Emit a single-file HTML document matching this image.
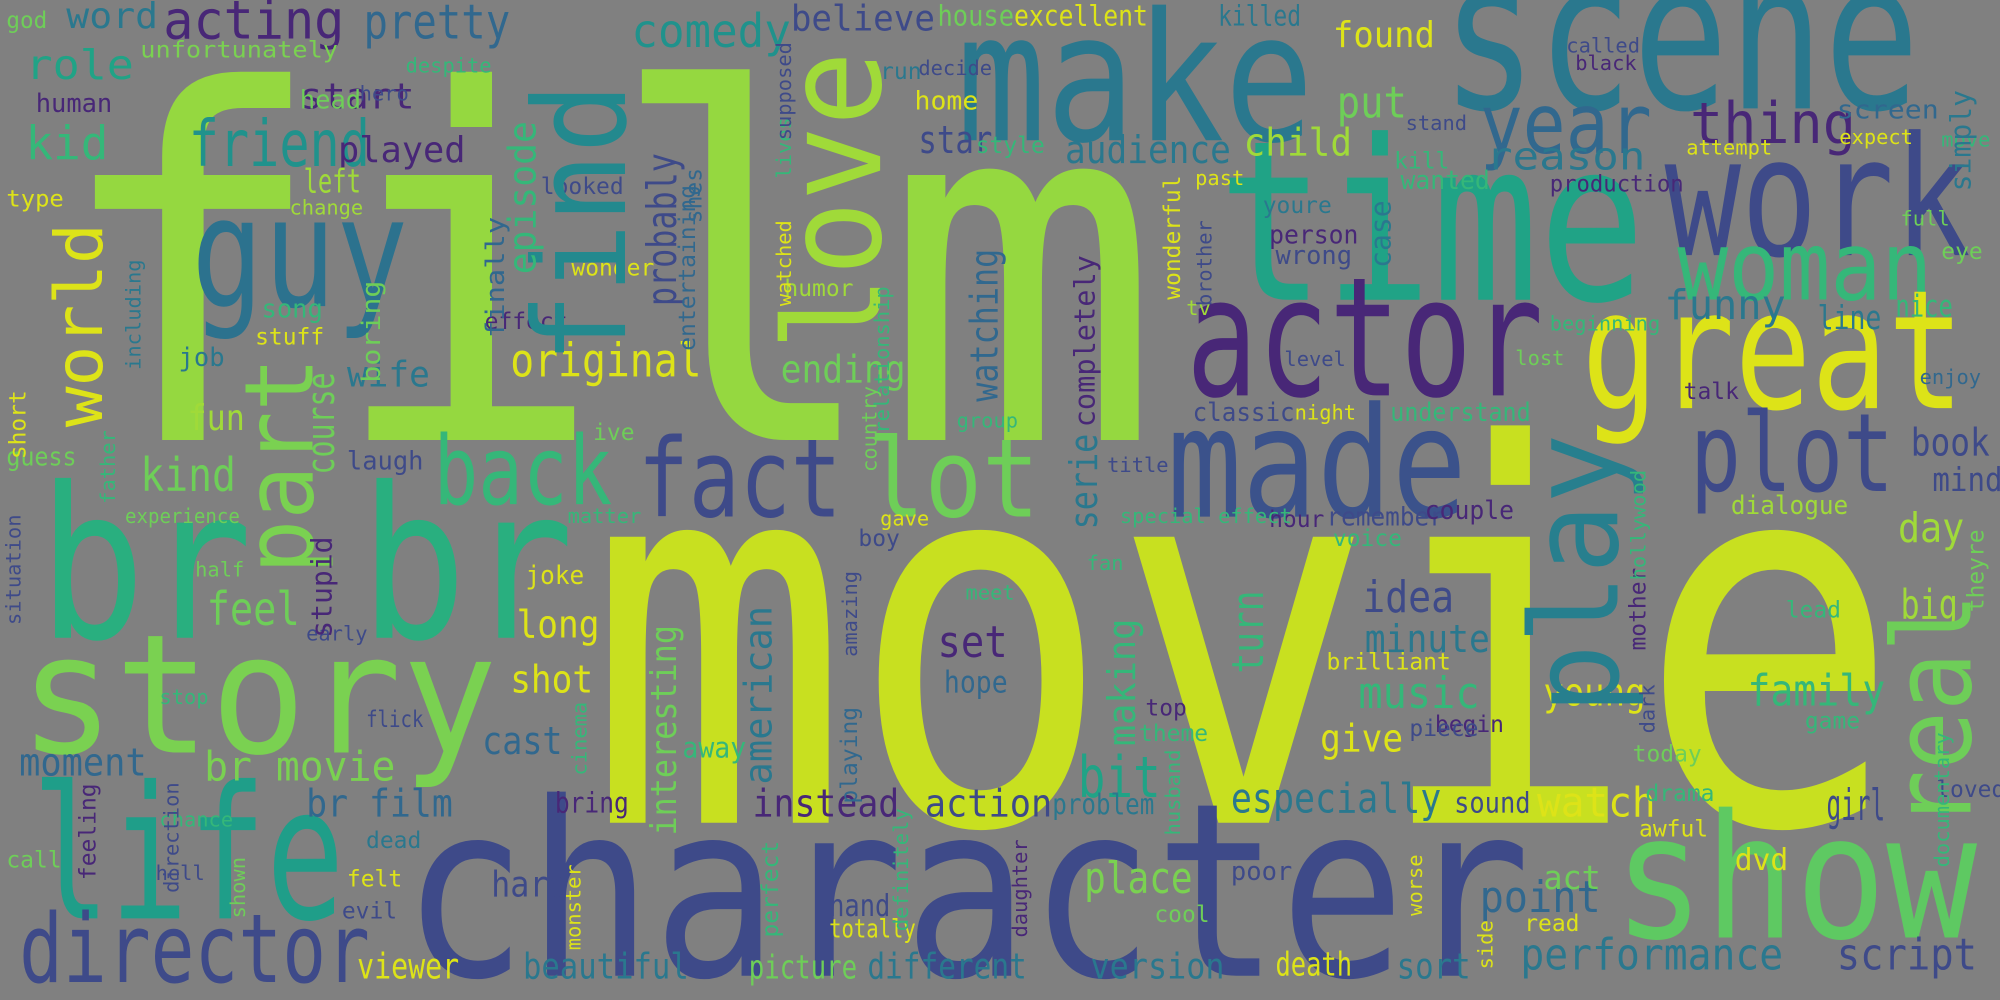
<!DOCTYPE html>
<html><head><meta charset="utf-8"><style>
html,body{margin:0;padding:0;background:#808080;}
svg{display:block;}
text{font-family:"DejaVu Sans Mono","Liberation Mono",monospace;}
</style></head><body>
<svg id="cloud" width="2000" height="1000" viewBox="0 0 1568 784" xmlns="http://www.w3.org/2000/svg">
<rect width="1568" height="784" fill="#808080"/>
</svg>
<script>
// [word, x, baseline, fontSize, length(0=auto), color, vertical]
const words = [
["film",40,345,380,870,"#95d840",0],
["movie",460,645,410,1030,"#c8e020",0],
["character",315,765,190,885,"#3e4a89",0],
["scene",1130,85,165,375,"#2a788e",0],
["make",750,110,140,280,"#2a788e",0],
["time",955,235,175,335,"#20a386",0],
["work",1305,200,130,240,"#3e4a89",0],
["woman",1315,235,75,200,"#35b779",0],
["great",1240,320,130,300,"#dde318",0],
["actor",930,310,130,280,"#482777",0],
["made",915,405,120,235,"#3b528b",0],
["plot",1325,385,85,160,"#3e4a89",0],
["show",1265,735,135,285,"#5ec962",0],
["br br",30,500,165,420,"#29af7f",0],
["story",15,590,130,375,"#7ad151",0],
["life",25,720,145,245,"#1f9e89",0],
["director",15,770,75,275,"#3e4a89",0],
["guy",150,240,120,170,"#2c728e",0],
["back",340,395,75,140,"#35b779",0],
["fact",500,405,85,160,"#3e4a89",0],
["lot",680,405,85,135,"#6ece58",0],
["year",1160,120,65,135,"#31688e",0],
["thing",1325,112,45,130,"#482777",0],
["friend",148,130,50,142,"#20928c",0],
["acting",128,30,42,142,"#482777",0],
["pretty",285,30,38,115,"#31688e",0],
["comedy",495,37,36,125,"#20928c",0],
["original",400,295,36,150,"#dde318",0],
["instead",590,640,30,115,"#482777",0],
["action",725,640,30,100,"#3e4a89",0],
["br movie",160,612,32,150,"#7ad151",0],
["br film",240,640,30,115,"#31688e",0],
["moment",15,608,30,100,"#31688e",0],
["kind",110,385,36,75,"#6ece58",0],
["feel",162,490,36,73,"#6ece58",0],
["bit",845,625,45,65,"#20a386",0],
["especially",965,637,32,165,"#2a788e",0],
["watch",1205,640,32,93,"#dde318",0],
["girl",1432,643,34,46,"#3e4a89",0],
["performance",1192,760,34,206,"#2a788e",0],
["script",1440,760,34,110,"#3e4a89",0],
["point",1160,715,34,95,"#31688e",0],
["place",850,700,34,85,"#7ad151",0],
["music",1065,555,34,95,"#35b779",0],
["family",1370,553,34,108,"#35b779",0],
["young",1210,553,30,80,"#dde318",0],
["minute",1070,511,30,98,"#2a788e",0],
["idea",1068,480,34,72,"#3e4a89",0],
["set",735,515,34,55,"#482777",0],
["big",1490,485,32,45,"#a0da39",0],
["day",1488,425,32,52,"#a0da39",0],
["book",1498,357,30,62,"#3e4a89",0],
["mind",1515,385,26,55,"#3e4a89",0],
["funny",1305,250,32,95,"#2a788e",0],
["line",1425,258,26,50,"#2a788e",0],
["nice",1486,248,24,45,"#35b779",0],
["reason",1165,133,30,125,"#2a788e",0],
["child",975,122,30,85,"#a0da39",0],
["put",1048,92,34,55,"#6ece58",0],
["found",1045,37,28,80,"#dde318",0],
["audience",835,128,30,130,"#2a788e",0],
["star",720,120,30,58,"#3e4a89",0],
["played",265,127,28,100,"#482777",0],
["ending",612,300,30,98,"#6ece58",0],
["cast",378,591,30,63,"#31688e",0],
["shot",400,543,30,65,"#dde318",0],
["long",405,500,30,65,"#dde318",0],
["fun",147,337,28,45,"#a0da39",0],
["wife",272,303,28,65,"#2a788e",0],
["left",238,151,26,45,"#a0da39",0],
["start",235,85,28,90,"#482777",0],
["role",20,62,32,85,"#20a386",0],
["kid",20,125,36,65,"#35b779",0],
["word",52,22,28,72,"#2a788e",0],
["god",5,22,18,32,"#6ece58",0],
["human",28,88,20,60,"#482777",0],
["type",5,162,18,45,"#dde318",0],
["unfortunately",110,45,18,155,"#7ad151",0],
["head",235,85,20,0,"#6ece58",0],
["give",1035,589,30,65,"#dde318",0],
["hope",740,543,24,50,"#31688e",0],
["believe",620,24,28,113,"#3e4a89",0],
["house",735,20,22,60,"#6ece58",0],
["excellent",795,20,22,105,"#dde318",0],
["killed",955,20,22,65,"#2a788e",0],
["beautiful",410,767,28,130,"#2a788e",0],
["viewer",280,767,28,80,"#dde318",0],
["different",680,767,28,125,"#2a788e",0],
["version",855,767,28,105,"#2a788e",0],
["death",1000,765,26,60,"#dde318",0],
["sort",1095,767,28,58,"#2a788e",0],
["picture",587,767,26,85,"#6ece58",0],
["hard",385,703,28,60,"#3e4a89",0],
["hand",650,718,24,48,"#3e4a89",0],
["totally",650,735,20,68,"#dde318",0],
["act",1210,697,26,45,"#6ece58",0],
["dvd",1360,682,24,42,"#dde318",0],
["bring",435,637,22,58,"#482777",0],
["problem",825,638,22,80,"#2a788e",0],
["away",535,594,22,50,"#35b779",0],
["sound",1140,637,22,60,"#3e4a89",0],
["understand",1090,330,20,110,"#35b779",0],
["classic",935,330,20,80,"#3e4a89",0],
["remember",1040,412,20,92,"#3e4a89",0],
["couple",1117,407,20,70,"#482777",0],
["dialogue",1357,403,20,92,"#a0da39",0],
["person",995,191,20,70,"#482777",0],
["wrong",1000,207,20,60,"#3e4a89",0],
["wanted",1098,148,20,70,"#35b779",0],
["production",1215,150,18,105,"#482777",0],
["screen",1440,93,20,80,"#31688e",0],
["home",717,86,20,50,"#dde318",0],
["laugh",272,368,20,60,"#3e4a89",0],
["experience",98,410,16,90,"#6ece58",0],
["guess",5,365,20,55,"#6ece58",0],
["joke",412,458,20,46,"#dde318",0],
["flick",287,570,18,45,"#3e4a89",0],
["chance",125,648,16,0,"#35b779",0],
["call",5,680,18,0,"#6ece58",0],
["hell",122,690,16,0,"#3e4a89",0],
["dead",287,665,18,0,"#2a788e",0],
["felt",272,695,18,0,"#dde318",0],
["evil",268,720,18,0,"#3e4a89",0],
["poor",965,690,20,0,"#3e4a89",0],
["cool",905,723,18,0,"#6ece58",0],
["read",1195,730,18,0,"#dde318",0],
["awful",1285,656,18,0,"#dde318",0],
["drama",1290,628,18,0,"#35b779",0],
["loved",1518,625,18,0,"#3e4a89",0],
["game",1415,571,18,0,"#35b779",0],
["today",1280,597,18,0,"#6ece58",0],
["begin",1125,574,18,0,"#482777",0],
["piece",1105,577,18,0,"#3e4a89",0],
["theme",893,581,18,0,"#35b779",0],
["top",898,561,18,0,"#482777",0],
["brilliant",1040,525,18,0,"#dde318",0],
["lead",1400,484,18,0,"#35b779",0],
["voice",1045,428,18,0,"#35b779",0],
["hour",995,413,18,0,"#482777",0],
["special effect",878,410,16,0,"#35b779",0],
["title",868,370,16,0,"#3e4a89",0],
["matter",445,410,16,0,"#35b779",0],
["half",153,452,16,0,"#6ece58",0],
["early",240,502,16,0,"#3e4a89",0],
["stop",125,552,16,0,"#35b779",0],
["meet",757,470,16,0,"#35b779",0],
["fan",852,447,16,0,"#35b779",0],
["gave",690,412,16,0,"#dde318",0],
["boy",673,428,18,0,"#3e4a89",0],
["talk",1320,313,18,0,"#482777",0],
["enjoy",1505,301,16,0,"#31688e",0],
["level",1007,287,16,0,"#3e4a89",0],
["lost",1188,286,16,0,"#6ece58",0],
["night",1015,329,16,0,"#dde318",0],
["ive",465,345,18,0,"#6ece58",0],
["job",140,287,20,0,"#2a788e",0],
["song",205,249,20,0,"#35b779",0],
["stuff",200,270,18,0,"#dde318",0],
["effect",380,258,18,0,"#482777",0],
["humor",615,232,18,0,"#a0da39",0],
["wonder",448,216,18,0,"#dde318",0],
["looked",424,152,18,0,"#3e4a89",0],
["change",227,168,16,0,"#a0da39",0],
["hero",282,79,16,0,"#3e4a89",0],
["despite",318,57,16,0,"#35b779",0],
["run",690,62,18,0,"#2a788e",0],
["decide",720,59,16,0,"#3e4a89",0],
["called",1228,41,16,0,"#3e4a89",0],
["black",1235,55,16,0,"#482777",0],
["stand",1102,102,16,0,"#3e4a89",0],
["attempt",1322,121,16,0,"#dde318",0],
["expect",1442,113,16,0,"#dde318",0],
["move",1522,115,16,0,"#35b779",0],
["full",1490,177,16,0,"#6ece58",0],
["eye",1522,203,18,0,"#6ece58",0],
["kill",1093,132,18,0,"#35b779",0],
["past",937,145,16,0,"#dde318",0],
["youre",990,167,18,0,"#2a788e",0],
["style",765,120,18,0,"#35b779",0],
["beginning",1215,259,16,0,"#35b779",0],
["tv",930,247,16,0,"#a0da39",0],
["group",750,335,16,0,"#35b779",0],
// vertical: [word, baselineX, bottomY, fontSize, length, color, 1]
["find",490,285,100,220,"#23898e",1],
["love",690,275,105,235,"#a0da39",1],
["part",245,450,75,170,"#7ad151",1],
["play",1268,560,95,220,"#277f8e",1],
["real",1545,650,85,185,"#6ece58",1],
["world",80,335,52,160,"#dde318",1],
["probably",530,240,32,120,"#3e4a89",1],
["watching",782,315,30,120,"#31688e",1],
["episode",420,215,30,120,"#35b779",1],
["course",262,372,30,80,"#6ece58",1],
["american",605,615,30,140,"#2a788e",1],
["interesting",530,655,28,165,"#6ece58",1],
["making",890,585,30,100,"#35b779",1],
["serie",860,415,30,75,"#2a788e",1],
["turn",990,528,34,65,"#35b779",1],
["completely",858,335,22,135,"#482777",1],
["boring",298,300,20,80,"#6ece58",1],
["finally",395,265,20,95,"#31688e",1],
["entertaining",545,275,18,130,"#31688e",1],
["watched",620,240,16,0,"#dde318",1],
["lives",620,140,16,0,"#35b779",1],
["supposed",620,110,16,0,"#3e4a89",1],
["relationship",697,340,16,0,"#35b779",1],
["including",110,290,16,0,"#2a788e",1],
["short",20,360,18,0,"#dde318",1],
["father",90,395,16,0,"#35b779",1],
["situation",16,490,16,0,"#3e4a89",1],
["feeling",75,690,18,0,"#482777",1],
["direction",140,700,16,0,"#3e4a89",1],
["shown",192,720,16,0,"#6ece58",1],
["stupid",260,500,22,0,"#482777",1],
["perfect",610,735,18,0,"#35b779",1],
["monster",455,745,16,0,"#dde318",1],
["definitely",712,730,16,0,"#35b779",1],
["daughter",805,735,16,0,"#482777",1],
["husband",925,655,16,0,"#35b779",1],
["worse",1115,718,16,0,"#dde318",1],
["side",1170,760,16,0,"#dde318",1],
["playing",672,630,18,0,"#31688e",1],
["cinema",460,608,16,0,"#35b779",1],
["amazing",672,515,16,0,"#3e4a89",1],
["country",687,370,16,0,"#6ece58",1],
["mother",1290,510,18,0,"#482777",1],
["dark",1297,575,16,0,"#3e4a89",1],
["hollywood",1290,455,16,0,"#35b779",1],
["theyre",1555,480,18,0,"#6ece58",1],
["brother",950,240,16,0,"#3e4a89",1],
["wonderful",925,235,18,0,"#dde318",1],
["shes",550,175,18,0,"#31688e",1],
["simply",1545,150,22,0,"#2a788e",1],
["documentary",1528,680,16,0,"#35b779",1],
["case",1090,210,22,0,"#2a788e",1]
];
const svg = document.getElementById('cloud');
const NS = 'http://www.w3.org/2000/svg';
for (const w of words) {
  const [txt, x, y, fs, len, col, vert] = w;
  const t = document.createElementNS(NS, 'text');
  t.textContent = txt;
  t.setAttribute('font-size', fs);
  t.setAttribute('fill', col);
  if (len > 0) {
    t.setAttribute('textLength', len);
    t.setAttribute('lengthAdjust', 'spacingAndGlyphs');
  }
  if (vert) {
    t.setAttribute('transform', 'translate(' + x + ',' + y + ') rotate(-90)');
  } else {
    t.setAttribute('x', x);
    t.setAttribute('y', y);
  }
  
  
  svg.appendChild(t);
}
</script>
</body></html>
